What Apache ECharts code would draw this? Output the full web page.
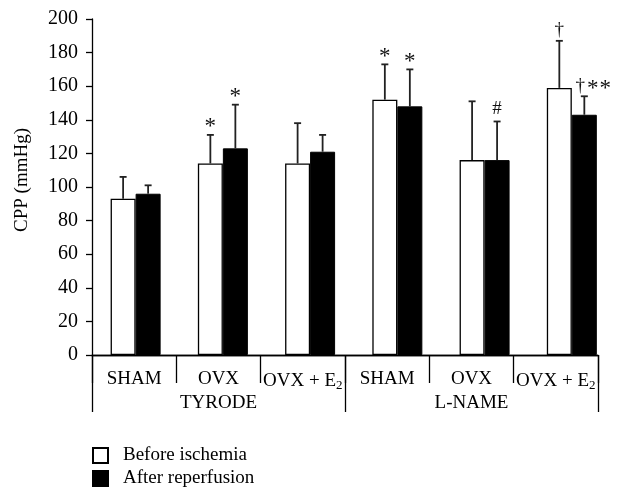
<!DOCTYPE html>
<html><head><meta charset="utf-8">
<script src="https://cdn.jsdelivr.net/npm/echarts@6/dist/echarts.min.js"></script>
<style>html,body{margin:0;padding:0;background:#fff}#c{width:621px;height:492px}</style>
</head><body><div id="c"></div>
<script>
// ---- data ----
const groups = ['TYRODE', 'L-NAME'];
const subgroups = ['SHAM', 'OVX', 'OVX + E2', 'SHAM', 'OVX', 'OVX + E2'];
const seriesNames = ['Before ischemia', 'After reperfusion'];
const yMin = 0, yMax = 200, yStep = 20;
const beforeMean = [93, 114, 114, 152, 116, 159];
const beforeSD   = [13, 17, 24, 21, 35, 28];
const afterMean  = [96, 123, 121, 148, 116, 143];
const afterSD    = [5, 26, 10, 22, 23, 11];
const beforeMarks = ['', '*', '', '*', '', '†'];
const afterMarks  = ['', '*', '', '*', '#', '† * *'];

// ---- styles ----
const FONT = '"Liberation Serif", "DejaVu Serif", serif';
const FS = 19;
const BAR_W = 25;
const MARK_STYLE = {'*': {size: 23, dy: 4}, '#': {size: 19, dy: -3}, '†': {size: 19, dy: -1}};
const chart = echarts.init(document.getElementById('c'));

function errSeries(means, sds, marks, side) {
  return {
    type: 'custom', xAxisIndex: 0, yAxisIndex: 0, z: 5,
    data: means.map((m, i) => [i, m, sds[i]]),
    renderItem: function (params, api) {
      const i = api.value(0), m = api.value(1), sd = api.value(2);
      const b = api.coord([i, m]), t = api.coord([i, m + sd]);
      const x = b[0] + side * BAR_W / 2;
      const mark = marks[params.dataIndex];
      const children = [
        {type: 'line', shape: {x1: x, y1: b[1], x2: x, y2: t[1]}, style: {stroke: '#222', lineWidth: 1.8}},
        {type: 'line', shape: {x1: x - 3.5, y1: t[1], x2: x + 3.5, y2: t[1]}, style: {stroke: '#222', lineWidth: 1.8}}
      ];
      if (mark) {
        const parts = mark.split(' ');
        const x0 = parts.length > 1 ? x - 4 : x;
        parts.forEach((p, k) => {
          const st = MARK_STYLE[p];
          children.push({type: 'text', x: x0 + k * 12.5, y: t[1] + st.dy,
            style: {text: p, fontSize: st.size, fontFamily: FONT, fill: '#111',
              align: 'center', verticalAlign: 'bottom'}});
        });
      }
      return {type: 'group', children: children};
    }
  };
}

const subRich = {
  n: {fontSize: FS, fontFamily: FONT, color: '#000'},
  s: {fontSize: 13, fontFamily: FONT, color: '#000', padding: [9, 0, 0, 0]}
};

chart.setOption({
  animation: false,
  backgroundColor: '#fff',
  grid: [
    {left: 92, width: 506, top: 19, height: 336},
    {left: 92, width: 506, top: 19, height: 336}
  ],
  xAxis: [
    {type: 'value', gridIndex: 0, min: -0.5, max: 5.3, show: false, position: 'top'},
    {type: 'category', gridIndex: 0, position: 'bottom', data: subgroups, boundaryGap: true,
      axisLine: {show: true, onZero: false, lineStyle: {color: '#000', width: 1.3}},
      axisTick: {show: true, length: 28, interval: 0, lineStyle: {color: '#000', width: 1.3}},
      axisLabel: {interval: 0, margin: 15, color: '#000',
        formatter: v => v.indexOf('E2') >= 0 ? '{n|' + v.replace('E2', 'E') + '}{s|2}' : '{n|' + v + '}',
        rich: subRich},
      splitLine: {show: false}},
    {type: 'category', gridIndex: 1, position: 'bottom', data: groups, boundaryGap: true,
      axisLine: {show: true, onZero: false, lineStyle: {color: '#000', width: 1.3}},
      axisTick: {show: true, length: 57, interval: 0, lineStyle: {color: '#000', width: 1.3}},
      axisLabel: {interval: 0, margin: 39, color: '#000', fontSize: FS, fontFamily: FONT},
      splitLine: {show: false}}
  ],
  yAxis: [
    {type: 'value', gridIndex: 0, min: yMin, max: yMax, interval: yStep,
      name: 'CPP (mmHg)', nameLocation: 'middle', nameGap: 60,
      nameTextStyle: {fontSize: FS, fontFamily: FONT, color: '#000', padding: [0, 0, 0, 14]},
      axisLine: {show: true, onZero: false, lineStyle: {color: '#000', width: 1.3}},
      axisTick: {show: true, length: 6, lineStyle: {color: '#000', width: 1.3}},
      axisLabel: {margin: 14, fontSize: 20, fontFamily: FONT, color: '#000'},
      splitLine: {show: false}},
    {type: 'value', gridIndex: 1, show: false, min: yMin, max: yMax}
  ],
  legend: {
    data: seriesNames, orient: 'vertical', left: 92, top: 446, padding: 0,
    itemWidth: 15, itemHeight: 15, itemGap: 4, icon: 'rect',
    textStyle: {fontSize: FS, fontFamily: FONT, color: '#000', padding: [0, 0, 0, 10]}
  },
  series: [
    {name: seriesNames[0], type: 'bar', xAxisIndex: 0, yAxisIndex: 0, barWidth: BAR_W, barGap: '0%',
      data: beforeMean.map((v, i) => [i, v]),
      itemStyle: {color: '#fff', borderColor: '#000', borderWidth: 1.3}},
    {name: seriesNames[1], type: 'bar', xAxisIndex: 0, yAxisIndex: 0, barWidth: BAR_W, barGap: '0%',
      data: afterMean.map((v, i) => [i, v]),
      itemStyle: {color: '#000', borderColor: '#000', borderWidth: 1}},
    errSeries(beforeMean, beforeSD, beforeMarks, -1),
    errSeries(afterMean, afterSD, afterMarks, 1)
  ]
});
</script></body></html>
